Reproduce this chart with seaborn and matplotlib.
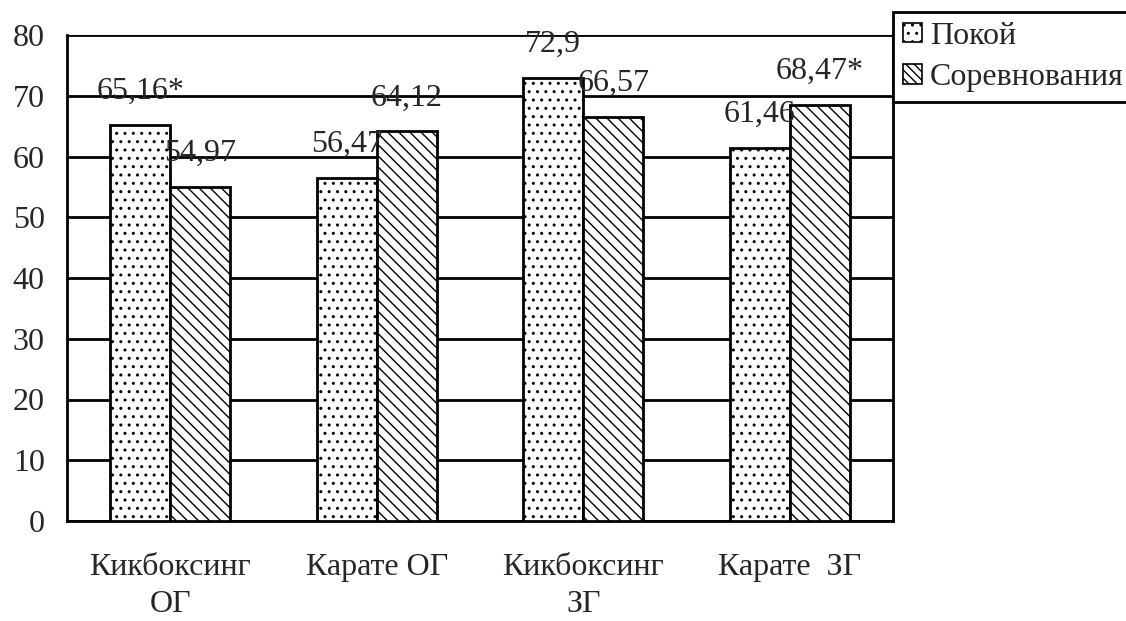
import matplotlib
matplotlib.use("Agg")
import matplotlib.pyplot as plt
import seaborn as sns
import pandas as pd

# Heart-rate style indicator by group, at rest and during competition
categories = ["Кикбоксинг\nОГ", "Карате ОГ", "Кикбоксинг\nЗГ", "Карате  ЗГ"]
series_names = ["Покой", "Соревнования"]
rest_values = [65.16, 56.47, 72.9, 61.46]
comp_values = [54.97, 64.12, 66.57, 68.47]
rest_marked = [True, False, False, False]   # significant difference marker
comp_marked = [False, False, False, True]
y_ticks = [0, 10, 20, 30, 40, 50, 60, 70, 80]

df = pd.DataFrame({
    "group": categories * 2,
    "series": [series_names[0]] * 4 + [series_names[1]] * 4,
    "value": rest_values + comp_values,
})

FS = 23

sns.set_style("white")
plt.rcParams["font.family"] = ["Liberation Serif", "DejaVu Serif"]
plt.rcParams["font.size"] = FS
plt.rcParams["hatch.linewidth"] = 1.0

fig = plt.figure(figsize=(11.26, 6.21), dpi=100)
ax = fig.add_axes([67 / 1126, 1 - 521 / 621, (893 - 67) / 1126, (521 - 35) / 621])

sns.barplot(data=df, x="group", y="value", hue="series", order=categories,
            hue_order=series_names, width=0.58, gap=0, ax=ax,
            palette=["white", "white"], edgecolor="black", linewidth=2,
            saturation=1, legend=False, zorder=3)

hatches = ["..", "\\\\\\"]
for cont, h in zip(ax.containers, hatches):
    for bar in cont:
        bar.set_facecolor("white")
        bar.set_edgecolor("black")
        bar.set_hatch(h)
        bar.set_linewidth(2)

# value labels above the bars
def fmt(v, mark):
    s = f"{v:g}".replace(".", ",")
    return s + ("*" if mark else "")

for cont, vals, marks in zip(ax.containers, [rest_values, comp_values], [rest_marked, comp_marked]):
    for bar, v, m in zip(cont, vals, marks):
        ax.annotate(fmt(v, m), (bar.get_x() + bar.get_width() / 2, v),
                    xytext=(0, 24), textcoords="offset points",
                    ha="center", va="center", fontsize=FS, zorder=5)

ax.set_ylim(0, 80)
ax.set_xlim(-0.5, 3.5)
ax.set_yticks(y_ticks)
ax.yaxis.grid(True, color="black", linewidth=2)
ax.set_axisbelow(True)
ax.set_xlabel("")
ax.set_ylabel("")

# category labels at group centres, tick marks at group boundaries
ax.set_xticks(range(len(categories)))
ax.set_xticklabels(categories, linespacing=1.35)
ax.tick_params(axis="x", which="major", length=0, pad=23)
ax.set_xticks([i - 0.5 for i in range(len(categories) + 1)], minor=True)
ax.tick_params(axis="x", which="minor", length=8, width=2, direction="out", color="black")
ax.tick_params(axis="y", length=8, width=2, direction="out", color="black", pad=8)

for side in ["left", "bottom", "right"]:
    ax.spines[side].set_color("black")
    ax.spines[side].set_linewidth(2)
ax.spines["top"].set_visible(False)

handles = [plt.Rectangle((0, 0), 1, 1, facecolor="white", edgecolor="black",
                         hatch=h, linewidth=1.2) for h in ["..", "\\\\\\\\"]]
leg = fig.legend(handles, series_names, loc="upper left",
                 bbox_to_anchor=(893 / 1126, 1 - 12 / 621), frameon=True,
                 fancybox=False, framealpha=1, edgecolor="black",
                 handlelength=0.6, handleheight=0.55, handletextpad=0.25,
                 borderpad=0.3, labelspacing=0.4, borderaxespad=0, fontsize=FS)
leg.get_frame().set_linewidth(2)

fig.savefig("out.png", dpi=100)
